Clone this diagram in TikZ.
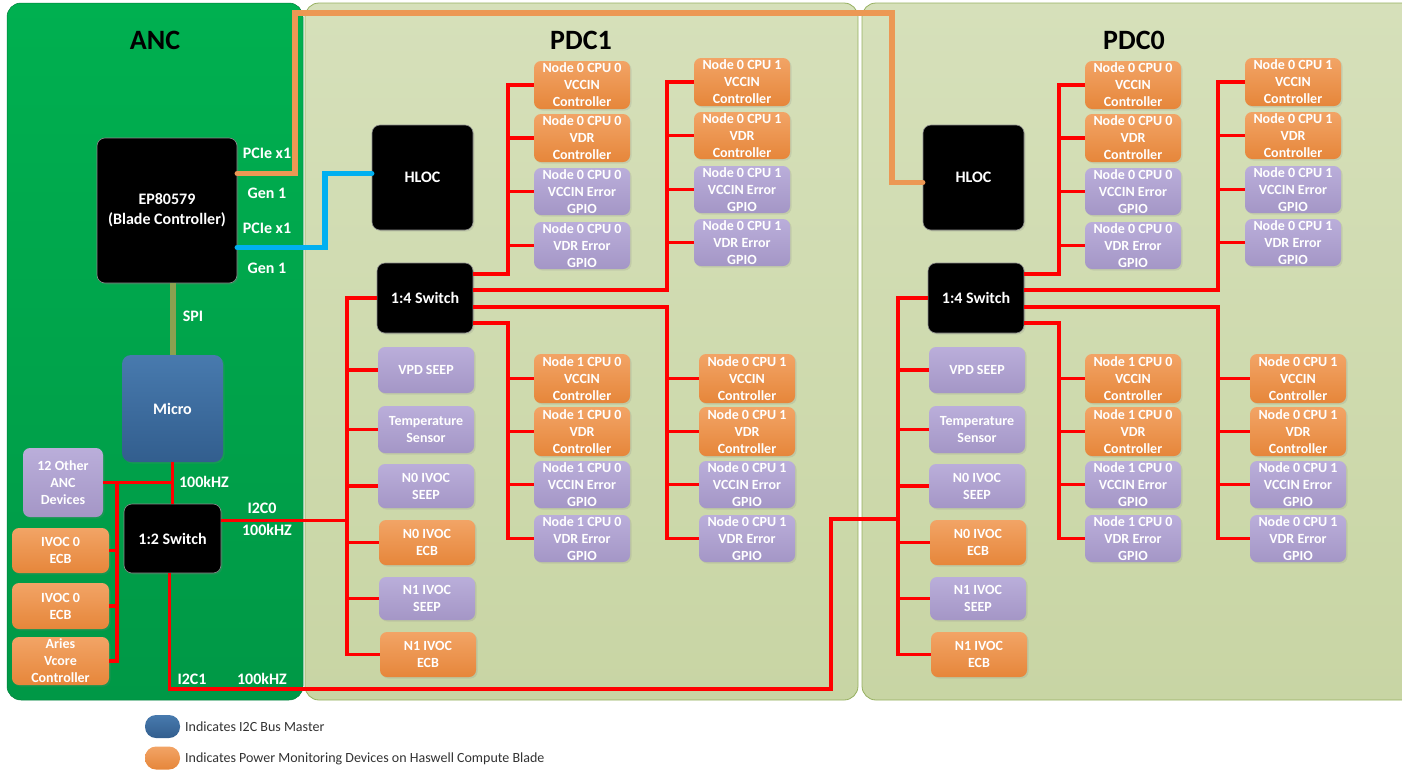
\documentclass[tikz,border=0pt]{standalone}
\usepackage{fontspec}
\setmainfont{Carlito}
\usetikzlibrary{calc,shadows}
\definecolor{orTop}{RGB}{242,164,102}
\definecolor{orBot}{RGB}{230,134,58}
\definecolor{puTop}{RGB}{186,174,218}
\definecolor{puBot}{RGB}{164,150,198}
\definecolor{ancTop}{RGB}{0,176,80}
\definecolor{ancBot}{RGB}{0,152,70}
\definecolor{pdcTop}{RGB}{214,224,186}
\definecolor{pdcBot}{RGB}{200,213,164}
\definecolor{pdcEdge}{RGB}{150,176,96}
\definecolor{miTop}{RGB}{72,122,174}
\definecolor{miBot}{RGB}{50,94,142}
\definecolor{i2cred}{RGB}{255,0,0}
\definecolor{pcieor}{RGB}{236,152,84}
\definecolor{pcieblue}{RGB}{0,176,240}
\definecolor{spicol}{RGB}{140,160,80}
\definecolor{legtext}{RGB}{50,50,50}
\tikzset{
  dev/.style={rounded corners=7pt, inner sep=0pt, align=center, text=white,
    font=\fontsize{14}{17}\selectfont\bfseries, minimum width=96pt,
    drop shadow={opacity=0.18, shadow xshift=1.5pt, shadow yshift=-1.5pt}},
  obox/.style={dev, top color=orTop, bottom color=orBot},
  pbox/.style={dev, top color=puTop, bottom color=puBot},
  kbox/.style={rounded corners=8pt, fill=black, draw=black!45, line width=0.6pt,
    text=white, font=\fontsize{16}{20}\selectfont\bfseries, align=center, inner sep=0pt,
    drop shadow={opacity=0.18, shadow xshift=1.5pt, shadow yshift=-1.5pt}},
  bus/.style={draw=i2cred, line width=3.6pt},
  pcie/.style={line width=5.5pt, line cap=round},
  lbl/.style={text=white, font=\fontsize{16}{19}\selectfont\bfseries, inner sep=0pt},
  ttl/.style={font=\fontsize{28}{32}\selectfont\bfseries, inner sep=0pt},
  legdot/.style={rounded corners=11pt, minimum width=35pt, minimum height=23pt, inner sep=0pt},
  legtxt/.style={anchor=west, font=\fontsize{14}{17}\selectfont, text=legtext, inner sep=0pt},
}
\begin{document}
\begin{tikzpicture}[x=1pt,y=-1pt]
\useasboundingbox (0,0) rectangle (1402,769);
% panels
\path[top color=ancTop, bottom color=ancBot, draw=ancBot!85!black, line width=0.5pt, rounded corners=14pt]
  (7,3) rectangle (303,700);
\path[top color=pdcTop, bottom color=pdcBot, draw=pdcEdge, line width=0.8pt, rounded corners=14pt]
  (305,3) rectangle (858,700);
\begin{scope}
\clip (0,0) rectangle (1402,769);
\path[top color=pdcTop, bottom color=pdcBot, draw=pdcEdge, line width=0.8pt, rounded corners=14pt]
  (862,3) rectangle (1420,700);
\end{scope}
% titles
\node[ttl] (tanc) at (155,40) {ANC};
\node[ttl] (tpdc1) at (581,40) {PDC1};
\node[ttl] (tpdc0) at (1134,40) {PDC0};
% PDC panels
\foreach \p/\dx in {1/0,0/551}{
\begin{scope}[xshift=\dx pt]
  \node[kbox, minimum width=101pt, minimum height=105pt] (hlocx\p) at (422.5,177.5) {HLOC};
  \node[kbox, minimum width=96pt, minimum height=70pt] (swx\p) at (425,298) {1:4 Switch};
  % upper column A
  \node[obox, minimum height=48pt] (ua1x\p) at (582,85) {Node 0 CPU 0\\VCCIN\\Controller};
  \node[obox, minimum height=48pt] (ua2x\p) at (582,138) {Node 0 CPU 0\\VDR\\Controller};
  \node[pbox, minimum height=47pt] (ua3x\p) at (582,191.5) {Node 0 CPU 0\\VCCIN Error\\GPIO};
  \node[pbox, minimum height=47pt] (ua4x\p) at (582,245.5) {Node 0 CPU 0\\VDR Error\\GPIO};
  % upper column B
  \node[obox, minimum height=48pt] (ub1x\p) at (742,82) {Node 0 CPU 1\\VCCIN\\Controller};
  \node[obox, minimum height=47pt] (ub2x\p) at (742,135.5) {Node 0 CPU 1\\VDR\\Controller};
  \node[pbox, minimum height=47pt] (ub3x\p) at (742,189.5) {Node 0 CPU 1\\VCCIN Error\\GPIO};
  \node[pbox, minimum height=47pt] (ub4x\p) at (742,242.5) {Node 0 CPU 1\\VDR Error\\GPIO};
  % lower column A
  \node[obox, minimum height=49pt] (la1x\p) at (582,378.5) {Node 1 CPU 0\\VCCIN\\Controller};
  \node[obox, minimum height=49pt] (la2x\p) at (582,431.5) {Node 1 CPU 0\\VDR\\Controller};
  \node[pbox, minimum height=47pt] (la3x\p) at (582,484.5) {Node 1 CPU 0\\VCCIN Error\\GPIO};
  \node[pbox, minimum height=47pt] (la4x\p) at (582,538.5) {Node 1 CPU 0\\VDR Error\\GPIO};
  % lower column B
  \node[obox, minimum height=49pt] (lb1x\p) at (747,378.5) {Node 0 CPU 1\\VCCIN\\Controller};
  \node[obox, minimum height=49pt] (lb2x\p) at (747,431.5) {Node 0 CPU 1\\VDR\\Controller};
  \node[pbox, minimum height=47pt] (lb3x\p) at (747,484.5) {Node 0 CPU 1\\VCCIN Error\\GPIO};
  \node[pbox, minimum height=47pt] (lb4x\p) at (747,538.5) {Node 0 CPU 1\\VDR Error\\GPIO};
  % left column
  \node[pbox, minimum height=46pt] (l1x\p) at (426,370) {VPD SEEP};
  \node[pbox, minimum height=47pt] (l2x\p) at (426,429.5) {Temperature\\Sensor};
  \node[pbox, minimum height=44pt] (l3x\p) at (426,486) {N0 IVOC\\SEEP};
  \node[obox, minimum height=45pt] (l4x\p) at (427,542.5) {N0 IVOC\\ECB};
  \node[pbox, minimum height=43pt] (l5x\p) at (427,598.5) {N1 IVOC\\SEEP};
  \node[obox, minimum height=45pt] (l6x\p) at (428,654.5) {N1 IVOC\\ECB};
  % bus lines
  \coordinate (bAx\p) at (508,0);
  \coordinate (bBx\p) at (667,0);
  \coordinate (bLx\p) at (347,0);
  \coordinate (s1x\p) at ([yshift=24pt]swx\p.east);
  \coordinate (s2x\p) at ([yshift=8pt]swx\p.east);
  \coordinate (s3x\p) at ([yshift=-9pt]swx\p.east);
  \coordinate (s4x\p) at ([yshift=-25pt]swx\p.east);
  \draw[bus] (s1x\p) -| (bAx\p |- ua1x\p.west) -- (ua1x\p.west);
  \draw[bus] (s2x\p) -| (bBx\p |- ub1x\p.west) -- (ub1x\p.west);
  \draw[bus] (s3x\p) -| (bBx\p |- lb4x\p.west) -- (lb4x\p.west);
  \draw[bus] (s4x\p) -| (bAx\p |- la4x\p.west) -- (la4x\p.west);
  \draw[bus] (swx\p.west) -| (bLx\p |- l6x\p.west) -- (l6x\p.west);
  \foreach \k in {2,3,4}{
    \draw[bus] (ua\k x\p.west) -- (bAx\p |- ua\k x\p.west);
    \draw[bus] (ub\k x\p.west) -- (bBx\p |- ub\k x\p.west);
  }
  \foreach \k in {1,2,3}{
    \draw[bus] (la\k x\p.west) -- (bAx\p |- la\k x\p.west);
    \draw[bus] (lb\k x\p.west) -- (bBx\p |- lb\k x\p.west);
  }
  \foreach \k in {1,...,5}{
    \draw[bus] (l\k x\p.west) -- (bLx\p |- l\k x\p.west);
  }
\end{scope}
}
% ANC content
\node[kbox, minimum width=140pt, minimum height=145pt] (ep) at (167,210.5) {EP80579\\(Blade Controller)};
\node[rounded corners=9pt, top color=miTop, bottom color=miBot, minimum width=101pt, minimum height=107pt,
  text=white, font=\fontsize{16}{19}\selectfont\bfseries, inner sep=0pt,
  drop shadow={opacity=0.18, shadow xshift=1.5pt, shadow yshift=-1.5pt}] (micro) at (172.5,408.5) {Micro};
\node[pbox, minimum width=80pt, minimum height=69pt] (oth) at (63,482.5) {12 Other\\ANC\\Devices};
\node[obox, minimum width=97pt, minimum height=45pt] (iv1) at (60.5,550.5) {IVOC 0\\ECB};
\node[obox, minimum width=97pt, minimum height=46pt] (iv2) at (60.5,606) {IVOC 0\\ECB};
\node[obox, minimum width=97pt, minimum height=48pt] (aries) at (60.5,661) {Aries\\Vcore\\Controller};
\node[kbox, minimum width=97pt, minimum height=69pt] (sw12) at (172.5,538.5) {1:2 Switch};
% SPI
\draw[draw=spicol, line width=6pt] (micro.north |- ep.south) -- (micro.north);
% ANC I2C
\coordinate (ancb) at (117,0);
\draw[bus] (micro.south) -- (sw12.north);
\draw[bus] (oth.east) -- (oth.east -| micro.south);
\draw[bus] (ancb |- oth.east) -- (ancb |- aries.east) -- (aries.east);
\draw[bus] (iv1.east) -- (ancb |- iv1.east);
\draw[bus] (iv2.east) -- (ancb |- iv2.east);
\coordinate (i2c0s) at ([yshift=18pt]sw12.east);
\draw[bus] (i2c0s) -- (i2c0s -| bLx1);
\coordinate (i1s) at ([xshift=-3pt]sw12.south);
\coordinate (i1a) at (831,689);
\coordinate (i1b) at (831,519);
\draw[bus] (i1s) |- (i1a) -- (i1b) -- (i1b -| bLx0);
% PCIe
\coordinate (o1) at (295,13);
\coordinate (o2) at (892,13);
\coordinate (os) at ([yshift=37pt]ep.east);
\coordinate (ot) at ([yshift=-5pt]hlocx0.west);
\draw[pcie, draw=pcieor] (os) -| (o1) -- (o2) |- (ot);
\coordinate (bs) at ([yshift=-37pt]ep.east);
\coordinate (bt) at ([yshift=4pt]hlocx1.west);
\coordinate (bj) at (325,0);
\draw[pcie, draw=pcieblue] (bs) -| (bj |- bt) -- (bt);
% labels
\node[lbl] (lp1) at (267,153) {PCIe x1};
\node[lbl] (lg1) at (267,193) {Gen 1};
\node[lbl] (lp2) at (267,228) {PCIe x1};
\node[lbl] (lg2) at (267,268) {Gen 1};
\node[lbl] (lspi) at (193,316) {SPI};
\node[lbl] (lf1) at (204,482) {100kHZ};
\node[lbl] (li0) at (262,508) {I2C0};
\node[lbl] (lf2) at (267,530) {100kHZ};
\node[lbl] (li1) at (192,679) {I2C1};
\node[lbl] (lf3) at (262,679) {100kHZ};
% legend
\node[legdot, top color=miTop, bottom color=miBot] (leg1) at (162.5,726.5) {};
\node[legtxt] (legt1) at (185,727) {Indicates I2C Bus Master};
\node[legdot, top color=orTop, bottom color=orBot] (leg2) at (162.5,758) {};
\node[legtxt] (legt2) at (185,759) {Indicates Power Monitoring Devices on Haswell Compute Blade};
\end{tikzpicture}
\end{document}
